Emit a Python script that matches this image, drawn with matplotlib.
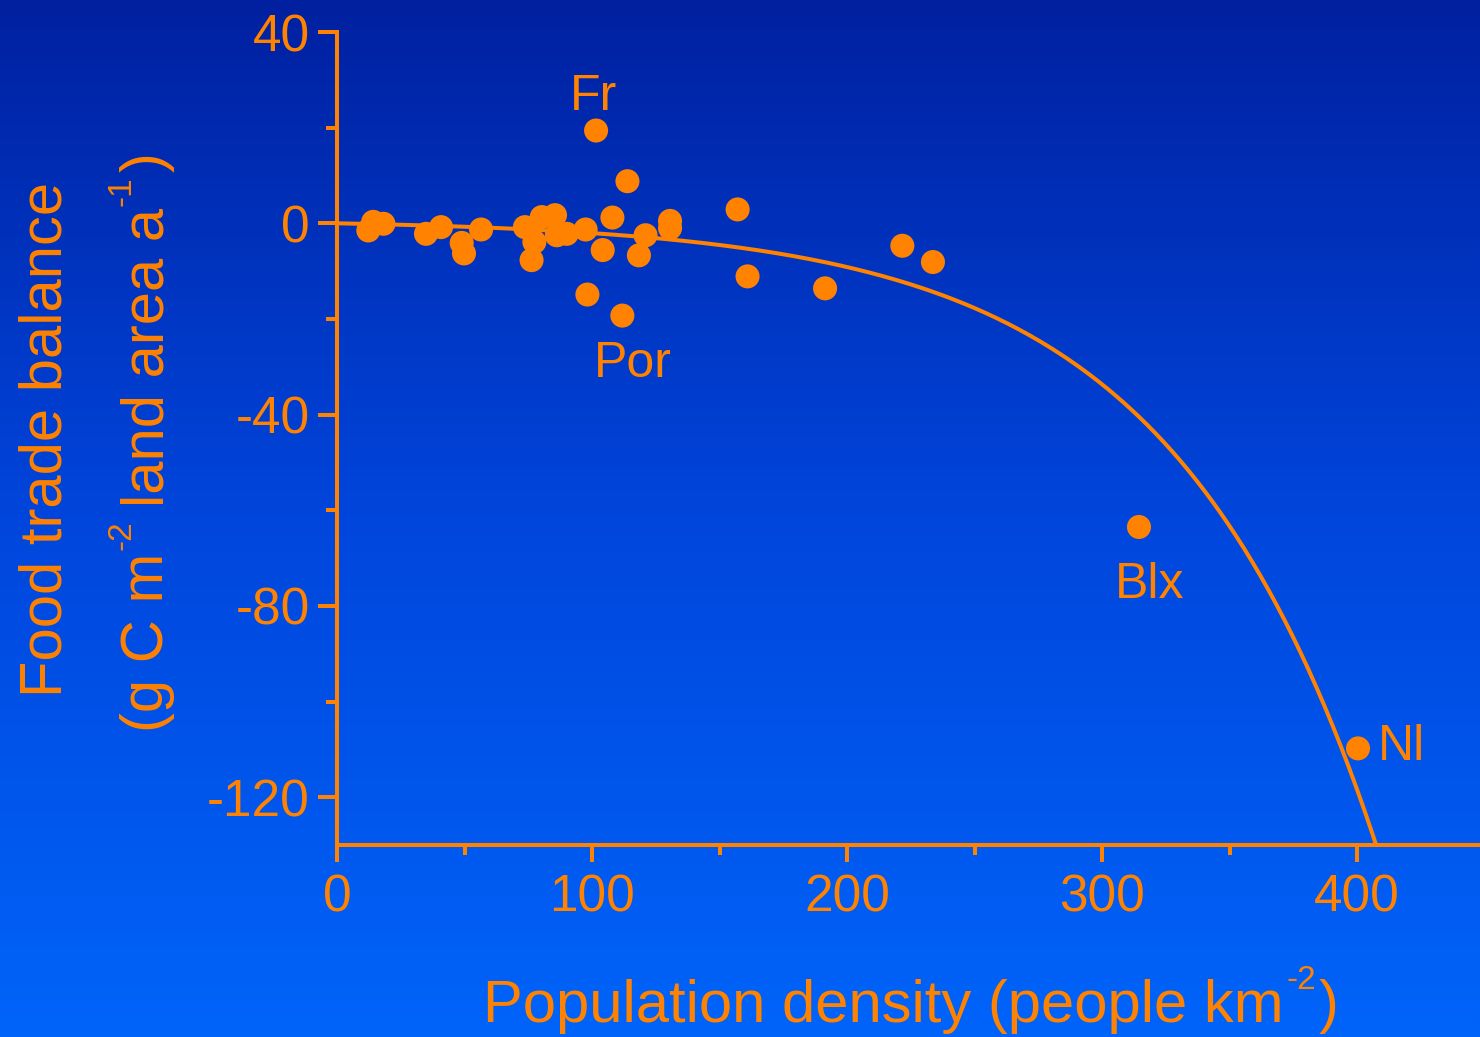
import numpy as np
import matplotlib
matplotlib.use("Agg")
import matplotlib.pyplot as plt
from matplotlib.colors import LinearSegmentedColormap
from matplotlib.transforms import IdentityTransform

# ---- data ----
pop_density = [14.2, 18.2, 12.3, 34.9, 40.8, 48.9, 49.8, 56.5, 73.7, 75.7, 80.3,
               85.5, 86.2, 90.1, 77.4, 76.3, 97.5, 113.9, 108.0, 104.2, 98.2,
               111.9, 121.0, 118.4, 130.6, 130.6, 157.1, 161.0, 191.4, 221.7,
               233.7, 101.6, 314.5, 400.4]
trade_balance = [0.3, -0.1, -1.5, -2.2, -0.8, -4.1, -6.3, -1.3, -0.8, -1.1, 1.3,
                 1.7, -2.5, -2.2, -3.9, -7.7, -1.3, 8.8, 1.2, -5.6, -14.9,
                 -19.3, -2.5, -6.7, 0.5, -1.0, 2.9, -11.1, -13.6, -4.7,
                 -8.1, 19.4, -63.5, -109.8]
labels = ["Fr", "Por", "Blx", "Nl"]
label_x = [100.4, 116.2, 318.8, 408.2]
label_y = [26.4, -29.4, -75.6, -109.6]
label_ha = ["center", "center", "center", "left"]
# fitted curve y = a*(1 - exp(b*x))
fit_a = 0.836
fit_b = 0.0124

xticks_major = [0, 100, 200, 300, 400]
xticks_minor = [50, 150, 250, 350]
yticks_major = [-120, -80, -40, 0, 40]
yticks_minor = [-100, -60, -20, 20]

ORANGE = "#FF8200"
W, H, DPI = 1480, 1037, 100
FONT = "Liberation Sans"

fig = plt.figure(figsize=(W / DPI, H / DPI), dpi=DPI)

# background gradient
bg = fig.add_axes([0, 0, 1, 1], zorder=-10)
cmap = LinearSegmentedColormap.from_list("bg", ["#0020A0", "#0046DC", "#0064FA"])
grad = np.linspace(0, 1, 256).reshape(-1, 1)
bg.imshow(grad, aspect="auto", cmap=cmap, extent=[0, 1, 0, 1], origin="upper")
bg.axis("off")

left = 337 / W
bottom = 1 - 845 / H
top = 1 - 32 / H
ax = fig.add_axes([left, bottom, 1 - left, top - bottom])
ax.set_facecolor("none")
ax.set_xlim(0, (W - 337) / 2.55)
ax.set_ylim(-130, 40)

for s in ["top", "right"]:
    ax.spines[s].set_visible(False)
for s in ["left", "bottom"]:
    ax.spines[s].set_color(ORANGE)
    ax.spines[s].set_linewidth(2.9)

ax.set_xticks(xticks_major)
ax.set_xticks(xticks_minor, minor=True)
ax.set_yticks(yticks_major)
ax.set_yticks(yticks_minor, minor=True)
ax.set_yticklabels([str(v) for v in yticks_major])
ax.tick_params(axis="both", which="both", colors=ORANGE, width=2.9, direction="out")
ax.tick_params(axis="y", which="major", length=13.5, pad=6)
ax.tick_params(axis="y", which="minor", length=8)
ax.tick_params(axis="x", which="major", length=12.5, pad=8)
ax.tick_params(axis="x", which="minor", length=7.5)
for lab in ax.get_xticklabels() + ax.get_yticklabels():
    lab.set_fontfamily(FONT)
    lab.set_fontsize(37)
    lab.set_color(ORANGE)

xs = np.linspace(0, 420, 400)
ax.plot(xs, fit_a * (1 - np.exp(fit_b * xs)), color=ORANGE, lw=2.9, zorder=2,
        clip_on=True)
ax.scatter(pop_density, trade_balance, s=300, color=ORANGE, edgecolors="none",
           zorder=3, clip_on=False)

for t, x, y, ha in zip(labels, label_x, label_y, label_ha):
    ax.text(x, y, t, ha=ha, va="center", color=ORANGE, fontsize=36, family=FONT)

renderer = fig.canvas.get_renderer()


def compose(pieces, center, baseline, rotation):
    """pieces: (text, fontsize, rise_px, gap_after_px); coords in display px."""
    objs, lengths = [], []
    for s, size, rise, gap in pieces:
        t = fig.text(0, 0, s, fontsize=size, family=FONT, color=ORANGE,
                     rotation=rotation, rotation_mode="anchor", ha="left",
                     va="baseline", transform=IdentityTransform())
        bb = t.get_window_extent(renderer)
        L = bb.width if rotation == 0 else bb.height
        objs.append((t, rise))
        lengths.append(L + gap)
    pos = center - sum(lengths) / 2
    for (t, rise), L in zip(objs, lengths):
        if rotation == 0:
            t.set_position((pos, baseline + rise))
        else:
            t.set_position((baseline - rise, pos))
        pos += L


MAIN, SUP, RISE = 43, 24, 33
compose([("Population density (people km", MAIN, 0, 2),
         ("-2", SUP, RISE, 3),
         (")", MAIN, 0, 0)],
        center=911, baseline=H - 1022, rotation=0)
compose([("Food trade balance", MAIN, 0, 0)],
        center=H - 439, baseline=62, rotation=90)
compose([("(g C m", MAIN, 0, 2),
         ("-2", SUP, RISE, 14),
         ("land area a", MAIN, 0, 2),
         ("-1", SUP, RISE, 4),
         (")", MAIN, 0, 0)],
        center=H - 442, baseline=163, rotation=90)

fig.savefig("out.png", dpi=DPI)
